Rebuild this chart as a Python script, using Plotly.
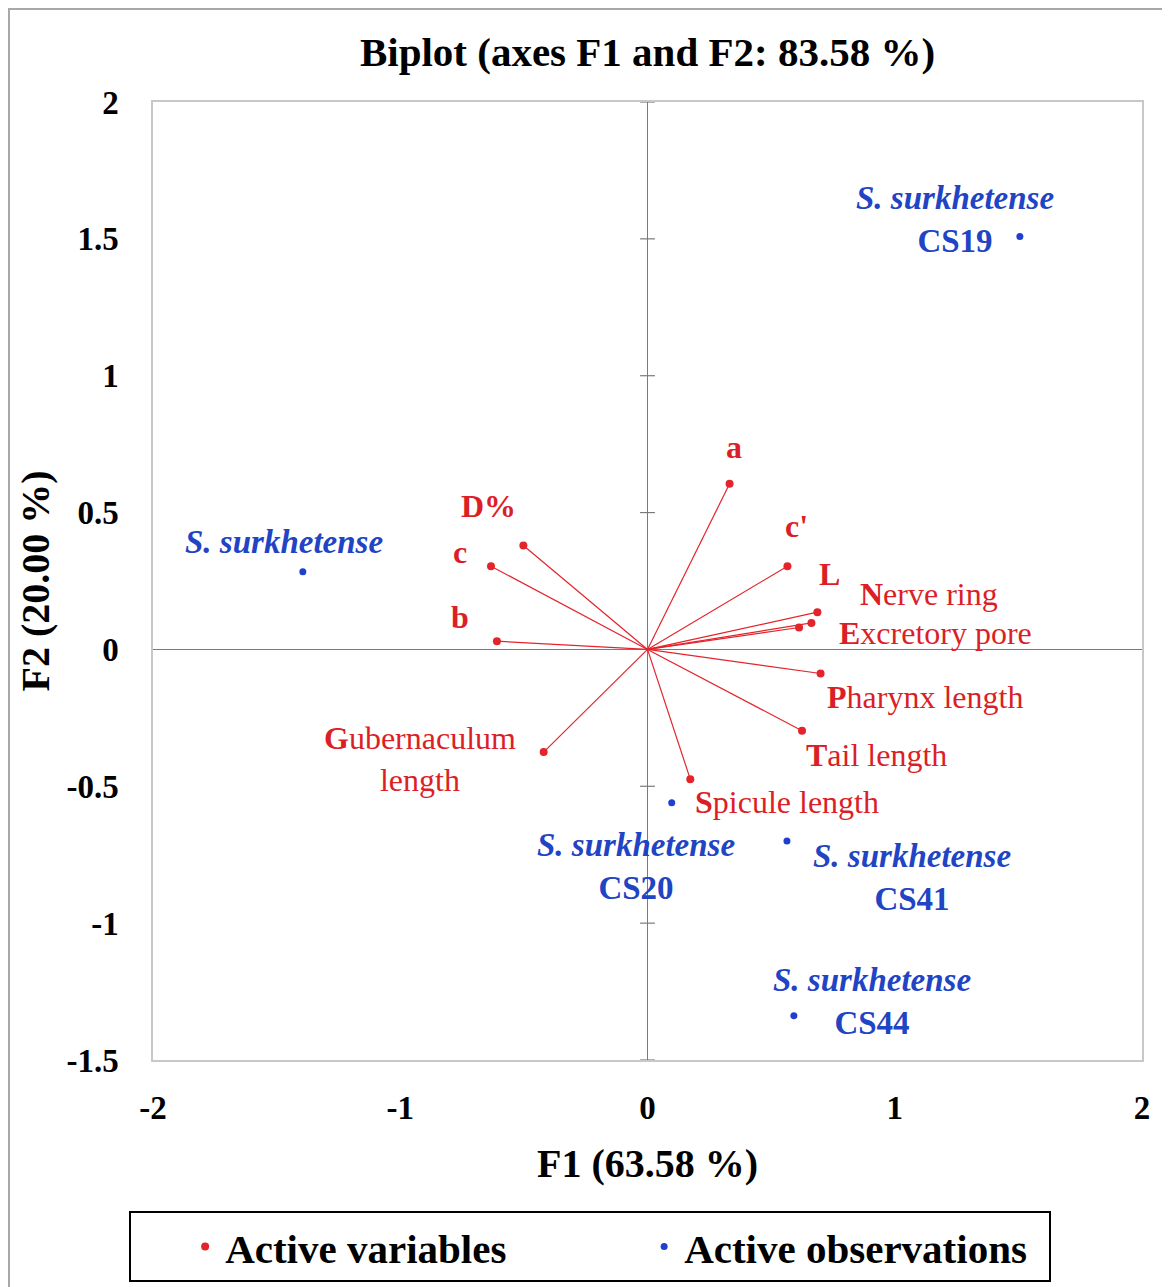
import plotly.graph_objects as go

# ---------------- data ----------------
var_names = ["a", "c'", "L", "Nerve ring", "Excretory pore", "Pharynx length",
             "Tail length", "Spicule length", "Gubernaculum length", "b", "c", "D%"]
var_f1 = [0.332, 0.566, 0.687, 0.663, 0.613, 0.700, 0.625, 0.173, -0.420, -0.609, -0.633, -0.502]
var_f2 = [0.605, 0.304, 0.136, 0.097, 0.080, -0.088, -0.297, -0.474, -0.375, 0.030, 0.304, 0.380]

obs_species = ["S. surkhetense"] * 5
obs_codes = ["CS19", "", "CS20", "CS41", "CS44"]
obs_f1 = [1.506, -1.394, 0.098, 0.564, 0.592]
obs_f2 = [1.509, 0.284, -0.560, -0.700, -1.338]

x_tickvals = [-2, -1, 0, 1, 2]
x_ticktext = ["-2", "-1", "0", "1", "2"]
y_tickvals = [-1.5, -1, -0.5, 0, 0.5, 1, 1.5, 2]
y_ticktext = ["-1.5", "-1", "-0.5", "0", "0.5", "1", "1.5", "2"]

title_text = "Biplot (axes F1 and F2: 83.58 %)"
x_title = "F1 (63.58 %)"
y_title = "F2 (20.00 %)"

# ---------------- styles ----------------
RED = "#e3242b"
RED_TXT = "#dc1f27"
BLUE = "#1f3fcf"
BLUE_TXT = "#2144c4"
FONT = "Liberation Serif, Times New Roman, serif"

# label pixel offsets relative to each point (xshift, yshift)
var_label_shift = {
    "a": (4, 37), "c'": (9, 40), "L": (12, 38), "Nerve ring": (118, 29),
    "Excretory pore": (136, -5), "Pharynx length": (104, -23), "Tail length": (74, -24),
    "Spicule length": (97, -23), "Gubernaculum length": (-124, -7), "b": (-37, 24),
    "c": (-31, 14), "D%": (-35, 39),
}
obs_label_shift = [(-65, 17), (-19, 30), (-36, -64), (125, -36), (78, 14)]


def var_label(name):
    if name == "Gubernaculum length":
        return "<b>G</b>ubernaculum<br>length"
    if " " in name:
        return "<b>" + name[0] + "</b>" + name[1:]
    return "<b>" + name + "</b>"


fig = go.Figure()

# vectors
lx, ly = [], []
for x, y in zip(var_f1, var_f2):
    lx += [0, x, None]
    ly += [0, y, None]
fig.add_trace(go.Scatter(x=lx, y=ly, mode="lines", line=dict(color=RED, width=1.2),
                         showlegend=False, hoverinfo="skip"))
fig.add_trace(go.Scatter(x=var_f1, y=var_f2, mode="markers", name="<b>Active variables</b>",
                         marker=dict(color=RED, size=8), text=var_names))
fig.add_trace(go.Scatter(x=obs_f1, y=obs_f2, mode="markers", name="<b>Active observations</b>",
                         marker=dict(color=BLUE, size=7), text=obs_codes))

annotations = []
for name, x, y in zip(var_names, var_f1, var_f2):
    dx, dy = var_label_shift[name]
    annotations.append(dict(x=x, y=y, xref="x", yref="y", text=var_label(name), showarrow=False,
                            xshift=dx, yshift=dy, font=dict(family=FONT, size=32, color=RED_TXT)))
for sp, code, x, y, (dx, dy) in zip(obs_species, obs_codes, obs_f1, obs_f2, obs_label_shift):
    txt = "<b><i>" + sp + "</i></b>"
    if code:
        txt += "<br><b>" + code + "</b>"
    annotations.append(dict(x=x, y=y, xref="x", yref="y", text=txt, showarrow=False,
                            xshift=dx, yshift=dy,
                            font=dict(family=FONT, size=33, color=BLUE_TXT)))

shapes = []
# ticks on vertical zero line
for v in y_tickvals:
    if v != 0:
        shapes.append(dict(type="line", xref="x", yref="y", x0=-0.03, x1=0.03, y0=v, y1=v,
                           line=dict(color="#7a7a7a", width=1.2)))
# outer border (left and top edges visible, rest runs off the picture)
shapes.append(dict(type="rect", xref="paper", yref="paper", x0=-0.1456, x1=1.0242,
                   y0=-0.26, y1=1.0971, line=dict(color="#a8a8a8", width=2), layer="below"))

fig.update_layout(
    width=1162, height=1287,
    margin=dict(l=145, r=28, t=94, b=235),
    paper_bgcolor="white", plot_bgcolor="white",
    font=dict(family=FONT, color="black"),
    title=dict(text="<b>" + title_text + "</b>", x=0.5, xref="paper", y=1 - 44 / 1287,
               yref="container", yanchor="middle", xanchor="center",
               font=dict(family=FONT, size=41, color="black")),
    xaxis=dict(range=[-2, 2], tickvals=x_tickvals, ticktext=["<b>" + t + "</b>" for t in x_ticktext],
               tickfont=dict(size=33), ticks="", showgrid=False,
               zeroline=True, zerolinecolor="#7a7a7a", zerolinewidth=1.3,
               showline=True, mirror=True, linecolor="#c8c8c8", linewidth=1.5,
               ticklabelstandoff=18,
               title=dict(text="<b>" + x_title + "</b>", font=dict(size=40), standoff=24)),
    yaxis=dict(range=[-1.5, 2], tickvals=y_tickvals, ticktext=["<b>" + t + "</b>" for t in y_ticktext],
               tickfont=dict(size=33), ticks="", showgrid=False,
               zeroline=True, zerolinecolor="#7a7a7a", zerolinewidth=1.3,
               showline=True, mirror=True, linecolor="#c8c8c8", linewidth=1.5,
               ticklabelstandoff=26,
               title=dict(text="<b>" + y_title + "</b>", font=dict(size=40), standoff=4)),
    legend=dict(orientation="h", x=0.442, xanchor="center", y=-0.158, yanchor="top",
                bordercolor="black", borderwidth=2, bgcolor="white",
                font=dict(family=FONT, size=41, color="black"),
                indentation=54, entrywidth=360, entrywidthmode="pixels"),
    annotations=annotations,
    shapes=shapes,
)

fig.write_html("out.html")
